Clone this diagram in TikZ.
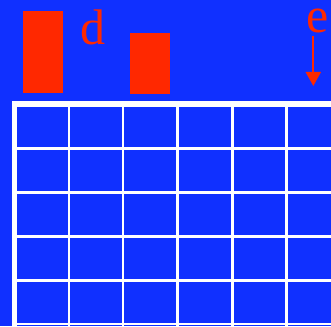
\documentclass[tikz,border=0pt]{standalone}
\usepackage{fontspec}
\setmainfont{Liberation Serif}
\usetikzlibrary{arrows.meta}
\definecolor{fondo}{RGB}{16,48,255}
\definecolor{rojo}{RGB}{255,40,0}
\begin{document}
\begin{tikzpicture}[
    x=1pt,
    y=-1pt,
    barra/.style={fill=rojo, draw=none},
    etiqueta/.style={text=rojo, font=\fontsize{50}{50}\selectfont, inner sep=0pt, anchor=base},
    linea/.style={draw=white, line width=2.6pt},
    borde/.style={draw=white, line width=5.5pt},
    flecha/.style={draw=rojo, line width=2pt, -{Triangle[width=15pt,length=14pt]}}
]

% Fondo
\fill[fondo] (0,0) rectangle (331,326);
\useasboundingbox (0,0) rectangle (331,326);

% Barras
\fill[barra] (23,11) rectangle (63,93);
\fill[barra] (130,33) rectangle (170,94);

% Etiquetas
\node[etiqueta] (d) at (93,45) {d};
\node[etiqueta] (e) at (317.5,33) {e};
\coordinate (punta) at (313.3,86);
\draw[flecha] ([yshift=-3pt]e.base -| punta) -- (punta);

% Rejilla
\foreach \y in {148.5,192.5,236.5,280.7,324}
    \draw[linea] (12,\y) -- (331,\y);
\foreach \x in {68.8,123,177.7,232.2,286.3}
    \draw[linea] (\x,101) -- (\x,326);
\draw[borde] (14.7,326) -- (14.7,104) -- (331,104);

\end{tikzpicture}
\end{document}
